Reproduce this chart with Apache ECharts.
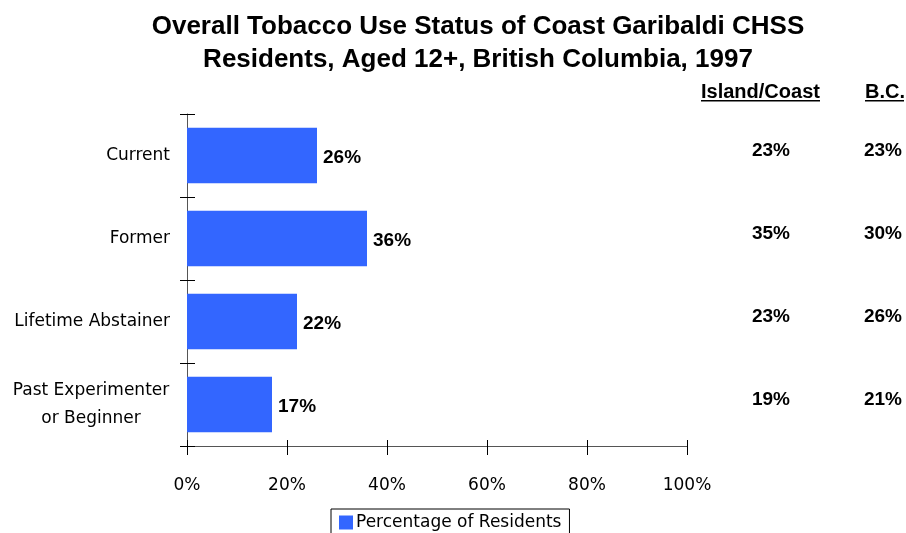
<!DOCTYPE html>
<html><head><meta charset="utf-8">
<script src="https://cdn.jsdelivr.net/npm/echarts@6/dist/echarts.min.js"></script>
<style>html,body{margin:0;padding:0;background:#fff}#c{width:906px;height:533px}</style>
</head><body><div id="c"></div>
<script>
const titleLines = ['Overall Tobacco Use Status of Coast Garibaldi CHSS', 'Residents, Aged 12+, British Columbia, 1997'];
const categories = ['Current', 'Former', 'Lifetime Abstainer', 'Past Experimenter\nor Beginner'];
const residents = [26, 36, 22, 17];
const compareColumns = ['Island/Coast', 'B.C.'];
const islandCoast = [23, 35, 23, 19];
const bc = [23, 30, 26, 21];
const xTicks = [0, 20, 40, 60, 80, 100];
const seriesName = 'Percentage of Residents';

const chart = echarts.init(document.getElementById('c'));
const valFont = {fontFamily: 'Liberation Sans', fontWeight: 'bold', fontSize: 19, color: '#000'};
const regFont = {fontFamily: 'DejaVu Sans', fontSize: 17, color: '#000'};

function compareSeries(name, vals) {
  return {
    type: 'scatter', name: name, xAxisIndex: 1, yAxisIndex: 1,
    symbolSize: 1, silent: true, itemStyle: {opacity: 1, color: 'rgba(0,0,0,0)'},
    data: vals.map((v, i) => ({value: [name, categories[i]], v: v})),
    label: {show: true, position: 'inside', offset: [0, -5],
      formatter: p => p.data.v + '%', ...valFont}
  };
}
const xBase = {type: 'value', min: xTicks[0], max: xTicks[xTicks.length - 1], interval: xTicks[1] - xTicks[0], splitLine: {show: false}};

chart.setOption({
  animation: false,
  title: {text: titleLines.join('\n'), left: 478, top: 10, padding: 0, textAlign: 'center',
    textStyle: {fontFamily: 'Liberation Sans', fontWeight: 'bold', fontSize: 26, lineHeight: 33, color: '#000'}},
  legend: {data: [seriesName], left: 331, top: 509, padding: [5, 8, 8, 8], borderColor: '#000', borderWidth: 1,
    itemWidth: 14, itemHeight: 14, itemGap: 0, icon: 'rect', textStyle: {...regFont, padding: [0, 0, 0, -2]}},
  grid: [
    {left: 187, top: 114, width: 500, height: 332},
    {left: 771, top: 114, width: 112, height: 332}
  ],
  xAxis: [
    {...xBase,
      axisLine: {show: true, lineStyle: {color: '#555', width: 1}},
      axisTick: {show: true, length: 9, lineStyle: {color: '#000'}},
      axisLabel: {margin: 31, formatter: v => v + '%', ...regFont}},
    {gridIndex: 1, type: 'category', data: compareColumns, boundaryGap: false, show: false},
    {...xBase, position: 'bottom',
      axisLine: {show: false}, axisLabel: {show: false},
      axisTick: {show: true, inside: true, length: 6, lineStyle: {color: '#000'}}}
  ],
  yAxis: [
    {type: 'category', data: categories, inverse: true,
      axisLine: {show: true, lineStyle: {color: '#555', width: 1}},
      axisTick: {show: true, length: 7, lineStyle: {color: '#000'}},
      axisLabel: {margin: 17, ...regFont,
        formatter: v => v.indexOf('\n') >= 0 ? v.split('\n').map(s => '{c|' + s + '}').join('\n') : v,
        rich: {c: {width: 158, align: 'center', fontFamily: 'DejaVu Sans', fontSize: 17, lineHeight: 28, color: '#000'}}}},
    {gridIndex: 1, type: 'category', data: categories, inverse: true, show: false},
    {type: 'category', data: categories, inverse: true, position: 'left',
      axisLine: {show: false}, axisLabel: {show: false},
      axisTick: {show: true, inside: true, length: 8, lineStyle: {color: '#000'}}}
  ],
  series: [
    {type: 'bar', name: seriesName, data: residents, barCategoryGap: '33%',
      itemStyle: {color: '#3366FF'}, z: 1,
      label: {show: true, position: 'right', distance: 6, offset: [0, 2], formatter: p => p.value + '%', ...valFont}},
    compareSeries(compareColumns[0], islandCoast),
    compareSeries(compareColumns[1], bc)
  ],
  graphic: [
    {type: 'text', left: 701, top: 82, style: {text: compareColumns[0], font: 'bold 20px "Liberation Sans"', fill: '#000'}},
    {type: 'rect', left: 701, top: 100, shape: {width: 119, height: 1.5}, style: {fill: '#000'}},
    {type: 'text', left: 865, top: 82, style: {text: compareColumns[1], font: 'bold 20px "Liberation Sans"', fill: '#000'}},
    {type: 'rect', left: 865, top: 100, shape: {width: 39, height: 1.5}, style: {fill: '#000'}}
  ]
});
</script></body></html>
